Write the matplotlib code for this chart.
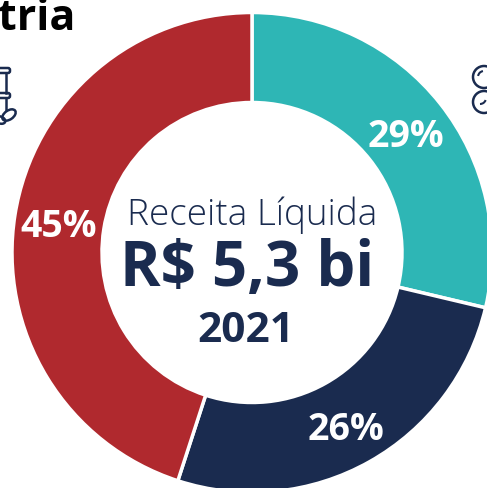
#!/usr/bin/env python3
import matplotlib
matplotlib.use("Agg")
import matplotlib.pyplot as plt
from matplotlib.patches import Arc, FancyBboxPatch, Circle, Ellipse

plt.rcParams['font.family'] = ['Open Sans', 'DejaVu Sans']

# fatias (os rotulos arredondam)
valores = [28.7, 26.3, 45]
rotulos = ['29%', '26%', '45%']
cores = ['#2EB6B5', '#1A2B4F', '#B0292E']
titulo = 'tria'
texto_centro = 'Receita Líquida'
valor_centro = 'R$ 5,3 bi'
ano_centro = '2021'
azul = '#1A2B4F'

fig = plt.figure(figsize=(4.87, 4.88), dpi=100)
ax = fig.add_axes([0, 0, 1, 1])

cx, cy, raio = 252, 252.5, 240
# o y do eixo esta invertido (pixels da imagem): -90 aponta para cima e gira no sentido horario
fatias, _ = ax.pie(valores, colors=cores, startangle=-90, counterclock=True,
                   center=(cx, cy), radius=raio, frame=True,
                   wedgeprops=dict(width=90, edgecolor='white', linewidth=2.5))
ax.set_xlim(0, 487)
ax.set_ylim(488, 0)
ax.set_aspect('auto')
ax.axis('off')

ax.text(406, 137, rotulos[0], color='white', fontsize=27, fontweight='bold', ha='center', va='center')
ax.text(346, 430, rotulos[1], color='white', fontsize=27, fontweight='bold', ha='center', va='center')
ax.text(59, 227, rotulos[2], color='white', fontsize=27, fontweight='bold', ha='center', va='center')

ax.text(252, 215, texto_centro, color=azul, fontsize=26.6, fontweight='light', ha='center', va='center')
ax.text(247, 269, valor_centro, color=azul, fontsize=44.5, fontweight='bold', ha='center', va='center')
ax.text(245.5, 331, ano_centro, color=azul, fontsize=30.5, fontweight='bold', ha='center', va='center')

ax.text(-2, 19, titulo, color='black', fontsize=31, fontweight='bold', ha='left', va='center')

# icone da esquerda (cortado)
ax.add_patch(FancyBboxPatch((-8, 68), 18, 5, boxstyle='round,pad=0,rounding_size=2', fc='none', ec=azul, lw=1.8))
ax.add_patch(FancyBboxPatch((-8, 93), 18, 5, boxstyle='round,pad=0,rounding_size=2', fc='none', ec=azul, lw=1.8))
ax.plot([6, 6], [73, 93], color=azul, lw=1.8)
ax.plot([6, 6], [98, 110], color=azul, lw=1.8)
ax.add_patch(Ellipse((9, 115), 15, 9, angle=-35, fc='none', ec=azul, lw=1.8))
ax.add_patch(Ellipse((0, 120), 11, 7, angle=20, fc='none', ec=azul, lw=1.8))

# icone da direita (cortado)
ax.add_patch(Circle((484, 77), 11, fc='none', ec=azul, lw=1.8))
ax.add_patch(Circle((484, 102), 11, fc='none', ec=azul, lw=1.8))
ax.add_patch(Arc((484, 77), 12, 12, theta1=190, theta2=260, ec=azul, lw=1.5))
ax.add_patch(Arc((480, 98), 12, 12, theta1=20, theta2=90, ec=azul, lw=1.5))

fig.savefig('out.png', dpi=100)
